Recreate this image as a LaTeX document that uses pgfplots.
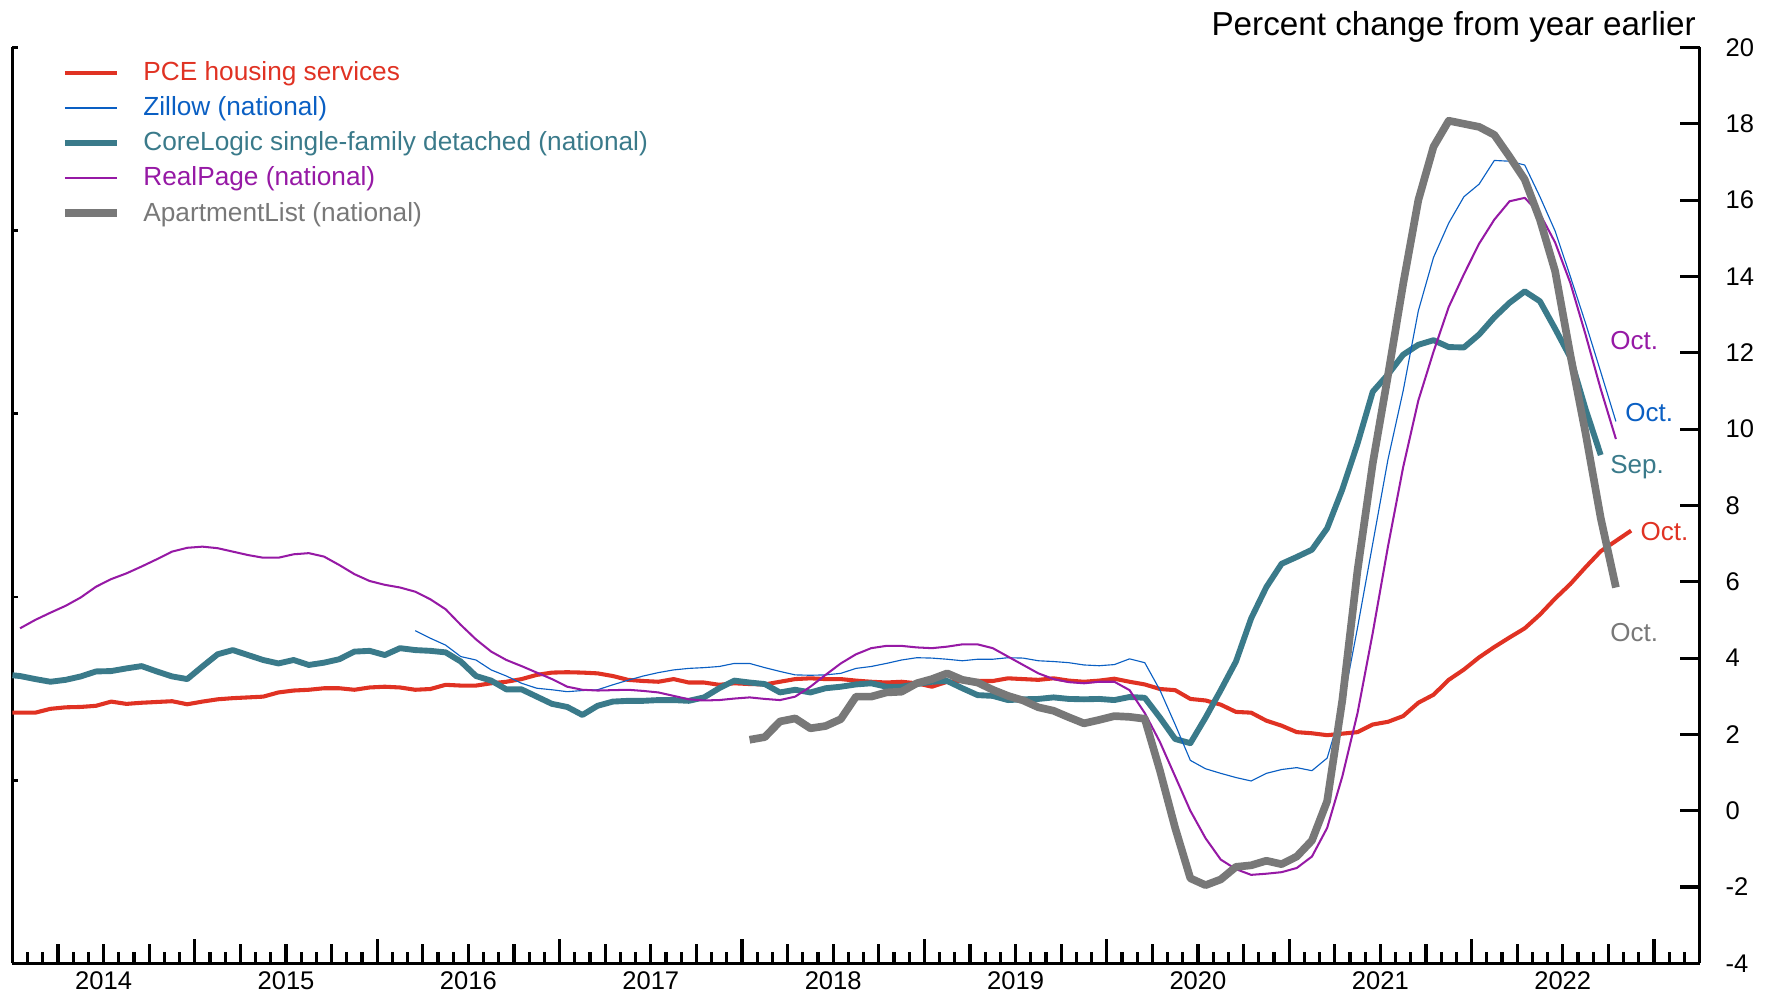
\documentclass[border=0pt]{standalone}
\usepackage{fontspec}
\setmainfont{Liberation Sans}
\usepackage{pgfplots}
\pgfplotsset{compat=1.18}
\definecolor{pce}{RGB}{224,50,35}
\definecolor{zil}{RGB}{10,95,195}
\definecolor{core}{RGB}{58,122,138}
\definecolor{rp}{RGB}{150,25,165}
\definecolor{apt}{RGB}{120,120,120}
\begin{document}
\begin{tikzpicture}
\useasboundingbox (0,0) rectangle (784pt,440pt);
% left axis (unlabelled)
\begin{axis}[at={(5.5pt,14pt)}, anchor=south west, width=746pt, height=405pt, scale only axis,
  xmin=0, xmax=111, ymin=-4, ymax=20,
  axis x line=none, axis y line*=left, axis line style={-, line width=1.5pt},
  ytick={-4,0.8,5.6,10.4,15.2,20}, yticklabels={}, tick align=inside,
  major tick length=2.5pt, tick style={black, line width=1.2pt}]
\end{axis}
\begin{axis}[at={(5.5pt,14pt)}, anchor=south west, width=746pt, height=405pt, scale only axis,
  xmin=0, xmax=111, ymin=-4, ymax=20, clip=false, no markers,
  axis x line*=bottom, axis y line*=right, axis line style={-, line width=1.4pt},
  tick align=inside, tick style={black, line width=1.4pt},
  major tick length=8.5pt, minor tick length=5.2pt,
  xtick={3,6,9,15,18,21,27,30,33,39,42,45,51,54,57,63,66,69,75,78,81,87,90,93,99,102,105},
  xticklabels={{},2014,{},{},2015,{},{},2016,{},{},2017,{},{},2018,{},{},2019,{},{},2020,{},{},2021,{},{},2022,{}},
  minor xtick={1,2,4,5,7,8,10,11,13,14,16,17,19,20,22,23,25,26,28,29,31,32,34,35,37,38,40,41,43,44,46,47,49,50,52,53,55,56,58,59,61,62,64,65,67,68,70,71,73,74,76,77,79,80,82,83,85,86,88,89,91,92,94,95,97,98,100,101,103,104,106,107,109,110},
  extra x ticks={12,24,36,48,60,72,84,96,108}, extra x tick labels={},
  extra x tick style={major tick length=10.75pt},
  ytick={-4,-2,0,2,4,6,8,10,12,14,16,18,20},
  yticklabels={-4,-2,0,2,4,6,8,10,12,14,16,18,20},
  ticklabel style={font=\fontsize{11.3}{13}\selectfont},
  yticklabel style={xshift=8pt},
  legend style={draw=none, fill=none, at={(rel axis cs:0,1)}, anchor=north west,
    xshift=21.5pt, yshift=-6.3pt, inner sep=0pt, outer sep=0pt, row sep=5.6pt, column sep=10pt,
    font=\fontsize{11.6}{13.8}\selectfont, nodes={inner sep=0pt}},
  legend cell align=left,
  legend image code/.code={\draw[#1] (0pt,0pt) -- (23pt,0pt);},
  every axis plot/.append style={line join=round}
]
\addlegendimage{pce, line width=1.8pt}
\addlegendentry{\textcolor{pce}{PCE housing services}}
\addlegendimage{zil, line width=0.5pt}
\addlegendentry{\textcolor{zil}{Zillow (national)}}
\addlegendimage{core, line width=2.6pt}
\addlegendentry{\textcolor{core}{CoreLogic single-family detached (national)}}
\addlegendimage{rp, line width=0.9pt}
\addlegendentry{\textcolor{rp}{RealPage (national)}}
\addlegendimage{apt, line width=3.4pt}
\addlegendentry{\textcolor{apt}{ApartmentList (national)}}

% PCE housing services
\addplot[pce, line width=1.8pt, forget plot] coordinates {
(0,2.57)(0.5,2.57)(1.5,2.57)(2.5,2.67)(3.5,2.71)(4.5,2.72)(5.5,2.75)(6.5,2.86)(7.5,2.80)(8.5,2.83)(9.5,2.85)
(10.5,2.87)(11.5,2.79)(12.5,2.86)(13.5,2.92)(14.5,2.95)(15.5,2.97)(16.5,2.99)(17.5,3.10)(18.5,3.15)(19.5,3.17)
(20.5,3.21)(21.5,3.21)(22.5,3.17)(23.5,3.23)(24.5,3.25)(25.5,3.23)(26.5,3.17)(27.5,3.19)(28.5,3.30)(29.5,3.28)
(30.5,3.28)(31.5,3.34)(32.5,3.38)(33.5,3.45)(34.5,3.56)(35.5,3.62)(36.5,3.63)(37.5,3.62)(38.5,3.60)(39.5,3.53)
(40.5,3.43)(41.5,3.40)(42.5,3.38)(43.5,3.45)(44.5,3.36)(45.5,3.36)(46.5,3.30)(47.5,3.34)(48.5,3.32)(49.5,3.31)
(50.5,3.38)(51.5,3.45)(52.5,3.47)(53.5,3.45)(54.5,3.45)(55.5,3.41)(56.5,3.38)(57.5,3.36)(58.5,3.38)(59.5,3.34)
(60.5,3.25)(61.5,3.38)(62.5,3.40)(63.5,3.40)(64.5,3.40)(65.5,3.47)(66.5,3.45)(67.5,3.43)(68.5,3.47)(69.5,3.41)
(70.5,3.38)(71.5,3.41)(72.5,3.46)(73.5,3.38)(74.5,3.31)(75.5,3.19)(76.5,3.16)(77.5,2.93)(78.5,2.89)(79.5,2.78)
(80.5,2.59)(81.5,2.57)(82.5,2.36)(83.5,2.23)(84.5,2.06)(85.5,2.03)(86.5,1.98)(87.5,2.02)(88.5,2.06)(89.5,2.26)
(90.5,2.33)(91.5,2.48)(92.5,2.83)(93.5,3.04)(94.5,3.43)(95.5,3.70)(96.5,4.02)(97.5,4.29)(98.5,4.54)(99.5,4.78)
(100.5,5.14)(101.5,5.56)(102.5,5.94)(103.5,6.38)(104.5,6.80)(105.5,7.07)(106.5,7.34)};

% CoreLogic
\addplot[core, line width=2.6pt, forget plot] coordinates {
(0,3.55)(0.5,3.53)(1.5,3.45)(2.5,3.38)(3.5,3.43)(4.5,3.52)(5.5,3.65)(6.5,3.66)(7.5,3.73)(8.5,3.79)(9.5,3.65)
(10.5,3.52)(11.5,3.45)(12.5,3.78)(13.5,4.10)(14.5,4.21)(15.5,4.08)(16.5,3.95)(17.5,3.86)(18.5,3.95)(19.5,3.82)
(20.5,3.88)(21.5,3.97)(22.5,4.17)(23.5,4.19)(24.5,4.08)(25.5,4.26)(26.5,4.21)(27.5,4.19)(28.5,4.15)(29.5,3.91)
(30.5,3.53)(31.5,3.41)(32.5,3.18)(33.5,3.18)(34.5,2.99)(35.5,2.80)(36.5,2.72)(37.5,2.51)(38.5,2.75)(39.5,2.86)
(40.5,2.88)(41.5,2.88)(42.5,2.90)(43.5,2.90)(44.5,2.88)(45.5,2.97)(46.5,3.21)(47.5,3.41)(48.5,3.36)(49.5,3.32)
(50.5,3.10)(51.5,3.17)(52.5,3.10)(53.5,3.21)(54.5,3.25)(55.5,3.31)(56.5,3.34)(57.5,3.25)(58.5,3.25)(59.5,3.32)
(60.5,3.38)(61.5,3.40)(62.5,3.21)(63.5,3.03)(64.5,3.01)(65.5,2.90)(66.5,2.92)(67.5,2.93)(68.5,2.97)(69.5,2.93)
(70.5,2.92)(71.5,2.93)(72.5,2.90)(73.5,2.98)(74.5,2.96)(75.5,2.44)(76.5,1.88)(77.5,1.77)(78.5,2.44)(79.5,3.16)
(80.5,3.91)(81.5,5.04)(82.5,5.86)(83.5,6.47)(84.5,6.65)(85.5,6.84)(86.5,7.40)(87.5,8.42)(88.5,9.62)(89.5,10.98)
(90.5,11.43)(91.5,11.95)(92.5,12.21)(93.5,12.33)(94.5,12.15)(95.5,12.14)(96.5,12.48)(97.5,12.93)(98.5,13.31)
(99.5,13.61)(100.5,13.35)(101.5,12.63)(102.5,11.88)(103.5,10.53)(104.5,9.32)};

% Zillow
\addplot[zil, line width=0.5pt, forget plot] coordinates {
(26.5,4.72)(27.5,4.52)(28.5,4.34)(29.5,4.04)(30.5,3.95)(31.5,3.69)(32.5,3.53)(33.5,3.34)(34.5,3.21)(35.5,3.17)
(36.5,3.12)(37.5,3.15)(38.5,3.17)(39.5,3.30)(40.5,3.42)(41.5,3.53)(42.5,3.62)(43.5,3.69)(44.5,3.73)(45.5,3.75)
(46.5,3.78)(47.5,3.86)(48.5,3.86)(49.5,3.75)(50.5,3.65)(51.5,3.56)(52.5,3.55)(53.5,3.56)(54.5,3.60)(55.5,3.73)
(56.5,3.78)(57.5,3.86)(58.5,3.95)(59.5,4.01)(60.5,4.00)(61.5,3.97)(62.5,3.93)(63.5,3.97)(64.5,3.97)(65.5,4.01)
(66.5,4.00)(67.5,3.93)(68.5,3.91)(69.5,3.88)(70.5,3.82)(71.5,3.80)(72.5,3.83)(73.5,3.98)(74.5,3.88)(75.5,3.16)
(76.5,2.26)(77.5,1.32)(78.5,1.10)(79.5,0.98)(80.5,0.87)(81.5,0.78)(82.5,0.98)(83.5,1.08)(84.5,1.13)(85.5,1.05)
(86.5,1.38)(87.5,2.71)(88.5,4.80)(89.5,7.00)(90.5,9.20)(91.5,11.00)(92.5,13.10)(93.5,14.50)(94.5,15.40)
(95.5,16.09)(96.5,16.42)(97.5,17.04)(98.5,17.02)(99.5,16.92)(100.5,16.09)(101.5,15.19)(102.5,14.00)(103.5,12.78)
(104.5,11.50)(105.5,10.20)};

% RealPage
\addplot[rp, line width=0.9pt, forget plot] coordinates {
(0.5,4.78)(1.5,5.00)(2.5,5.19)(3.5,5.37)(4.5,5.59)(5.5,5.87)(6.5,6.07)(7.5,6.22)(8.5,6.40)(9.5,6.59)
(10.5,6.79)(11.5,6.89)(12.5,6.92)(13.5,6.88)(14.5,6.79)(15.5,6.70)(16.5,6.63)(17.5,6.63)(18.5,6.72)(19.5,6.75)
(20.5,6.66)(21.5,6.44)(22.5,6.20)(23.5,6.02)(24.5,5.92)(25.5,5.85)(26.5,5.74)(27.5,5.54)(28.5,5.28)(29.5,4.87)
(30.5,4.49)(31.5,4.17)(32.5,3.95)(33.5,3.79)(34.5,3.62)(35.5,3.45)(36.5,3.25)(37.5,3.17)(38.5,3.15)(39.5,3.16)
(40.5,3.17)(41.5,3.14)(42.5,3.10)(43.5,3.01)(44.5,2.92)(45.5,2.89)(46.5,2.90)(47.5,2.94)(48.5,2.97)(49.5,2.93)
(50.5,2.90)(51.5,2.99)(52.5,3.25)(53.5,3.56)(54.5,3.86)(55.5,4.10)(56.5,4.26)(57.5,4.32)(58.5,4.32)(59.5,4.28)
(60.5,4.26)(61.5,4.30)(62.5,4.36)(63.5,4.36)(64.5,4.26)(65.5,4.04)(66.5,3.82)(67.5,3.60)(68.5,3.45)(69.5,3.37)
(70.5,3.34)(71.5,3.38)(72.5,3.38)(73.5,3.16)(74.5,2.56)(75.5,1.80)(76.5,0.90)(77.5,0.00)(78.5,-0.72)(79.5,-1.28)
(80.5,-1.53)(81.5,-1.68)(82.5,-1.65)(83.5,-1.61)(84.5,-1.50)(85.5,-1.20)(86.5,-0.45)(87.5,0.90)(88.5,2.56)
(89.5,4.66)(90.5,6.92)(91.5,9.00)(92.5,10.75)(93.5,12.03)(94.5,13.20)(95.5,14.06)(96.5,14.86)(97.5,15.49)
(98.5,15.97)(99.5,16.06)(100.5,15.64)(101.5,14.89)(102.5,13.83)(103.5,12.48)(104.5,11.05)(105.5,9.74)};

% ApartmentList
\addplot[apt, line width=3.4pt, forget plot] coordinates {
(48.5,1.86)(49.5,1.93)(50.5,2.34)(51.5,2.42)(52.5,2.16)(53.5,2.22)(54.5,2.40)(55.5,2.99)(56.5,2.99)(57.5,3.10)
(58.5,3.12)(59.5,3.34)(60.5,3.45)(61.5,3.60)(62.5,3.43)(63.5,3.36)(64.5,3.17)(65.5,3.01)(66.5,2.89)(67.5,2.71)
(68.5,2.62)(69.5,2.45)(70.5,2.29)(71.5,2.38)(72.5,2.48)(73.5,2.46)(74.5,2.41)(75.5,1.05)(76.5,-0.45)(77.5,-1.77)
(78.5,-1.95)(79.5,-1.80)(80.5,-1.47)(81.5,-1.43)(82.5,-1.31)(83.5,-1.40)(84.5,-1.20)(85.5,-0.78)(86.5,0.25)
(87.5,2.90)(88.5,6.30)(89.5,9.10)(90.5,11.40)(91.5,13.80)(92.5,16.00)(93.5,17.40)(94.5,18.08)(95.5,18.00)
(96.5,17.92)(97.5,17.71)(98.5,17.14)(99.5,16.54)(100.5,15.49)(101.5,14.14)(102.5,11.95)(103.5,9.90)
(104.5,7.67)(105.5,5.85)};

% end labels
\begin{scope}[every node/.style={font=\fontsize{11.5}{13.8}\selectfont, inner sep=0pt, anchor=west}]
\node[text=rp]   at (axis cs:105.1,12.33) {Oct.};
\node[text=zil]  at (axis cs:106.1,10.43) {Oct.};
\node[text=core] at (axis cs:105.1,9.00)  {Sep.};
\node[text=pce]  at (axis cs:107.1,7.32)  {Oct.};
\node[text=apt]  at (axis cs:105.1,4.68)  {Oct.};
\end{scope}
\node[font=\fontsize{14.7}{17}\selectfont, inner sep=0pt, anchor=base east]
  at ([xshift=-1.5pt,yshift=5.5pt]rel axis cs:1,1) {Percent change from year earlier};
\end{axis}
\end{tikzpicture}
\end{document}
